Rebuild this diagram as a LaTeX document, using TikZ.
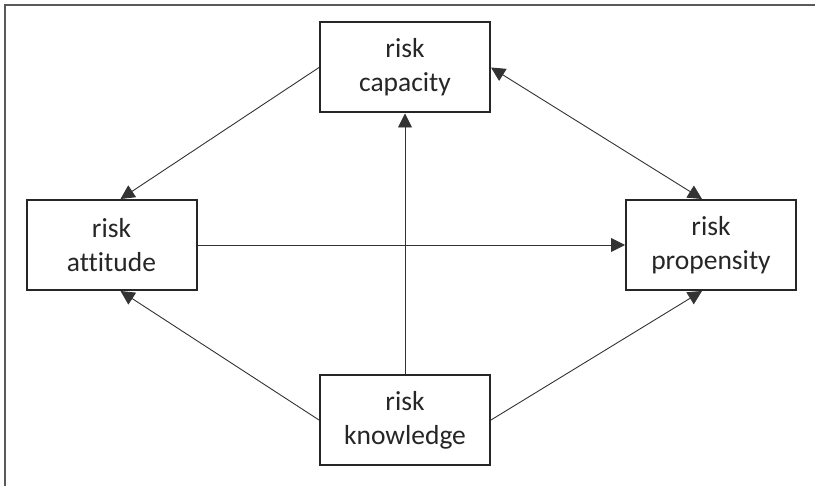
\documentclass[tikz,border=0pt]{standalone}
\usepackage{fontspec}
\setmainfont{Carlito}[Ligatures=NoCommon]
\usetikzlibrary{arrows.meta}
\begin{document}
\begin{tikzpicture}[x=1pt,y=-1pt,line cap=butt,line join=miter,
  box/.style={draw=black!85,line width=2pt,minimum width=170pt,minimum height=90pt,
              align=center,inner sep=0pt,text=black!85,
              font=\fontsize{27.5pt}{34pt}\selectfont},
  link/.style={draw=black!80,line width=0.9pt,-{Triangle[length=14pt,width=14pt]}},
  twoway/.style={link,{Triangle[length=14pt,width=14pt]}-{Triangle[length=14pt,width=14pt]}}]
% ---- frame (top and left edges only) ----
\draw[line width=1.6pt,black!65] (815,5) -- (5,5) -- (5,486);
% ---- boxes ----
\node[box] (cap)  at (405,67.5)  {risk\\capacity};
\node[box] (att)  at (111.5,245) {risk\\attitude};
\node[box] (prop) at (711,245)   {risk\\propensity};
\node[box] (know) at (405,420)   {risk\\knowledge};
% ---- links ----
\draw[link]   (cap.west)  -- ([xshift=9pt]att.north);
\draw[link]   (know.west) -- ([xshift=9pt]att.south);
\draw[twoway] (cap.east)  -- ([xshift=-9pt]prop.north);
\draw[link]   (know.east) -- ([xshift=-9pt]prop.south);
\draw[link]   (know.north) -- (cap.south);
\draw[link]   (att.east)  -- (prop.west);
% ---- canvas ----
\pgfresetboundingbox
\path[use as bounding box] (0,0) rectangle (815,486);
\end{tikzpicture}
\end{document}
